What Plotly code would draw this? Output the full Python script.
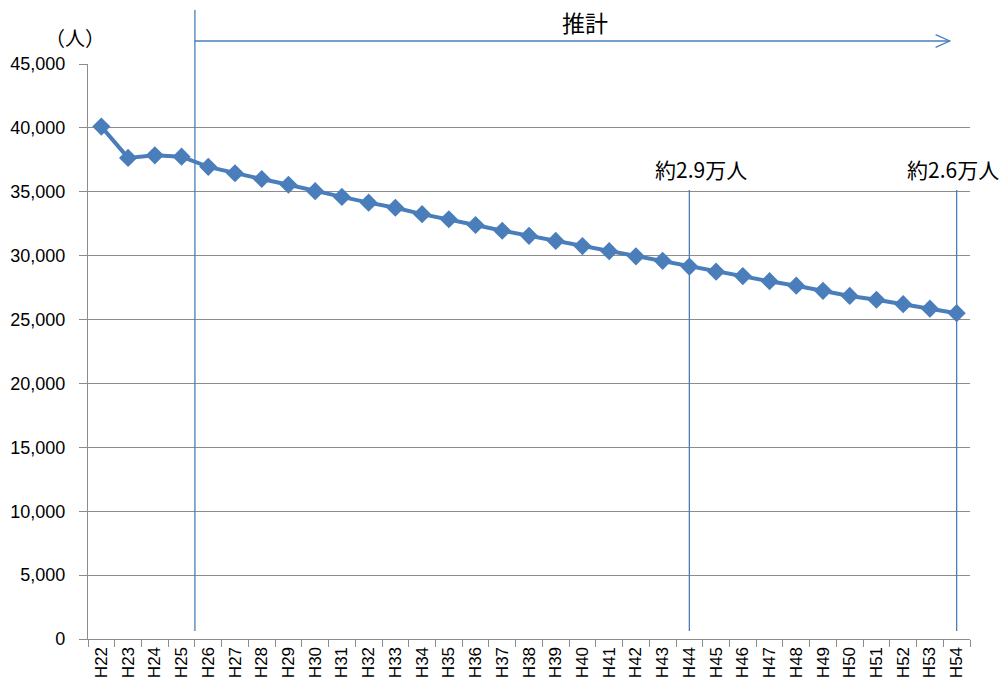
import plotly.graph_objects as go

categories = ["H%d" % y for y in range(22, 55)]
population = [40100, 37650, 37850, 37750, 36950, 36450, 36000, 35550, 35050, 34600,
              34150, 33750, 33250, 32850, 32400, 31950, 31550, 31150, 30750, 30350,
              29950, 29600, 29150, 28750, 28400, 28000, 27650, 27250, 26850, 26550,
              26200, 25850, 25500]
y_ticks = [0, 5000, 10000, 15000, 20000, 25000, 30000, 35000, 40000, 45000]
y_ticklabels = ["0", "5,000", "10,000", "15,000", "20,000", "25,000", "30,000", "35,000", "40,000", "45,000"]
estimate_start = "H26"
marker_years = ["H44", "H54"]
marker_labels = ["約2.9万人", "約2.6万人"]

BLUE = "#4A7EBB"
GRID = "#8C8C8C"
JP = "Noto Sans CJK JP"
n = len(categories)

fig = go.Figure()
fig.add_trace(go.Scatter(
    x=categories, y=population, mode="lines+markers",
    line=dict(color=BLUE, width=4),
    marker=dict(symbol="diamond", size=14, color=BLUE),
    showlegend=False,
))

shapes = []
annotations = []

# estimate start line (between H25 and H26)
i0 = categories.index(estimate_start) - 0.5
shapes.append(dict(type="line", xref="x", yref="paper", x0=i0, x1=i0, y0=0.014, y1=1.094,
                   line=dict(color=BLUE, width=1.3)))
# arrow
xa0 = (i0 + 0.5) / n
xa1 = 0.977
ya = 1.04
shapes.append(dict(type="line", xref="paper", yref="paper", x0=xa0, x1=xa1, y0=ya, y1=ya,
                   line=dict(color=BLUE, width=1.3)))
shapes.append(dict(type="path", xref="paper", yref="paper",
                   path="M %f %f L %f %f L %f %f" % (xa1 - 0.016, ya + 0.011, xa1, ya, xa1 - 0.016, ya - 0.011),
                   line=dict(color=BLUE, width=1.3)))
annotations.append(dict(text="推計", xref="paper", yref="paper", x=0.5635, y=1.073,
                        showarrow=False, font=dict(family=JP, size=23, color="black"),
                        xanchor="center", yanchor="middle"))

shifts = [12, -4]
for yr, lab, sh in zip(marker_years, marker_labels, shifts):
    shapes.append(dict(type="line", xref="x", yref="paper", x0=yr, x1=yr, y0=0.014, y1=0.781,
                       line=dict(color=BLUE, width=1.3)))
    idx = categories.index(yr)
    annotations.append(dict(text=lab, xref="x", yref="paper", x=idx, y=0.817, xshift=sh,
                            showarrow=False, font=dict(family=JP, size=21, color="black"),
                            xanchor="center", yanchor="middle"))

annotations.append(dict(text="（人）", xref="paper", yref="paper", x=-0.015, y=1.046,
                        showarrow=False, font=dict(family=JP, size=20, color="black"),
                        xanchor="center", yanchor="middle"))

fig.update_layout(
    width=1008, height=685,
    margin=dict(l=88, r=38, t=64, b=46),
    plot_bgcolor="white", paper_bgcolor="white",
    shapes=shapes, annotations=annotations,
    xaxis=dict(
        type="category", categoryorder="array", categoryarray=categories,
        range=[-0.5, n - 0.5], automargin=False,
        showgrid=False, showline=True, linecolor=GRID, linewidth=1.3,
        ticks="outside", tickson="boundaries", ticklen=7, tickcolor=GRID,
        tickangle=-90, tickfont=dict(family="Liberation Sans", size=17, color="black"),
        zeroline=False,
    ),
    yaxis=dict(
        range=[0, 45000], tickvals=y_ticks, ticktext=y_ticklabels, automargin=False,
        showgrid=True, gridcolor=GRID, gridwidth=1.3,
        showline=True, linecolor=GRID, linewidth=1.3,
        ticks="outside", ticklen=8, tickcolor=GRID,
        tickfont=dict(family="Liberation Sans", size=18, color="black"),
        ticklabelstandoff=10,
        zeroline=False,
    ),
)

fig.write_html("out.html")
